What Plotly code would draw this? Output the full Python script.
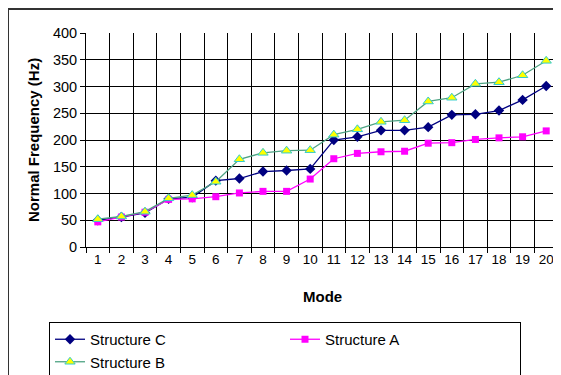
import plotly.graph_objects as go

modes = [str(i) for i in range(1, 21)]
structure_c = [50, 56, 64, 90, 93, 124, 128, 141, 143, 146, 200, 206, 218, 218, 224, 247, 248, 255, 275, 301]
structure_a = [47, 56, 65, 89, 90, 94, 101, 104, 104, 127, 165, 175, 178, 179, 194, 195, 201, 204, 206, 217]
structure_b = [52, 57, 66, 91, 97, 122, 164, 176, 180, 181, 210, 220, 234, 237, 272, 279, 305, 308, 321, 348]

FONT = "Liberation Sans, Arial, sans-serif"

fig = go.Figure()
fig.add_trace(go.Scatter(x=modes, y=structure_c, name="Structure C", mode="lines+markers",
                         line=dict(color="#000080", width=1.3),
                         marker=dict(symbol="diamond", size=8, color="#000080")))
fig.add_trace(go.Scatter(x=modes, y=structure_a, name="Structure A", mode="lines+markers",
                         line=dict(color="#FF00FF", width=1.3),
                         marker=dict(symbol="square", size=7, color="#FF00FF")))
fig.add_trace(go.Scatter(x=modes, y=structure_b, name="Structure B", mode="lines+markers",
                         line=dict(color="#4FA383", width=1.3),
                         marker=dict(symbol="triangle-up", size=9, color="#FFFF00",
                                     line=dict(color="#33CCCC", width=1))))

# page body has an 8px margin; work in screen coordinates
OFF = 8
W, H = 561 - OFF, 375 - OFF
X0, X1, Y0, Y1 = 86, 558, 33, 247  # plot area in screen px
L, R, T, B = X0 - OFF, W - (X1 - OFF), Y0 - OFF, H - (Y1 - OFF)
pw, ph = X1 - X0, Y1 - Y0

def px(x):
    return (x - X0) / pw

def py(y):
    return (Y1 - y) / ph

fig.update_layout(
    width=W, height=H,
    margin=dict(l=L, r=R, t=T, b=B, autoexpand=False),
    paper_bgcolor="white", plot_bgcolor="white",
    font=dict(family=FONT, color="black"),
    xaxis=dict(type="category", tickson="boundaries", showgrid=True, gridcolor="black", gridwidth=1,
               ticks="outside", ticklen=5, tickcolor="black", showline=True, linecolor="black",
               tickfont=dict(size=13.5), tickangle=0, range=[-0.5, 19.5], fixedrange=True,
               automargin=False),
    yaxis=dict(range=[0, 400], dtick=50, showgrid=True, gridcolor="black", gridwidth=1,
               ticks="outside", ticklen=5, tickcolor="black", showline=True, linecolor="black",
               tickfont=dict(size=14.5), zeroline=False, fixedrange=True, automargin=False),
    showlegend=True,
    legend=dict(orientation="h", x=px(49), xanchor="left", y=py(322), yanchor="top",
                entrywidth=190, entrywidthmode="pixels", bordercolor="black", borderwidth=1,
                font=dict(size=15, family=FONT), bgcolor="white", tracegroupgap=0),
    annotations=[
        dict(text="<b>Normal Frequency (Hz)</b>", textangle=-90, xref="paper", yref="paper",
             x=px(33), y=py(140), xanchor="center", yanchor="middle", showarrow=False,
             font=dict(size=15, family=FONT)),
        dict(text="<b>Mode</b>", xref="paper", yref="paper", x=px(322), y=py(296),
             xanchor="center", yanchor="middle", showarrow=False, font=dict(size=15, family=FONT)),
    ],
    shapes=[
        dict(type="line", xref="paper", yref="paper", x0=px(8), x1=px(8), y0=py(380), y1=py(9),
             line=dict(color="#333333", width=2)),
        dict(type="line", xref="paper", yref="paper", x0=px(8), x1=px(570), y0=py(9), y1=py(9),
             line=dict(color="#333333", width=2)),
    ],
)

fig.write_html("out.html")
